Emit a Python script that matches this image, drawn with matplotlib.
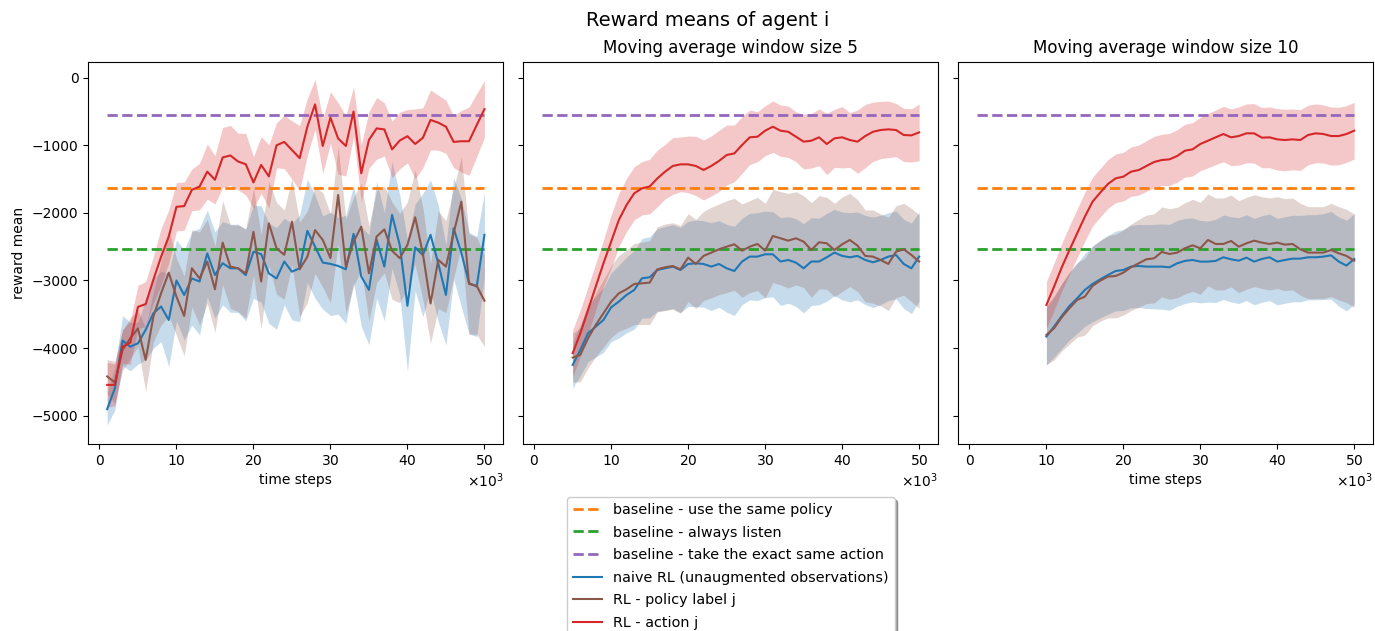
import numpy as np
import matplotlib
matplotlib.use("Agg")
import matplotlib.pyplot as plt

# ---------------- data (reward means, x in thousands of time steps) ----------------
x_raw = np.arange(1, 51)
x_ma5 = np.arange(5, 51)
x_ma10 = np.arange(10, 51)

baseline_same_policy = -1630
baseline_always_listen = -2535
baseline_same_action = -550

# panel 1: raw
raw_naive = [-4905, -4595, -3890, -3980, -3930, -3730, -3485, -3385, -3585, -3000,
             -3215, -2970, -3015, -2600, -2920, -2745, -2820, -2820, -2920, -2575,
             -2610, -2895, -2970, -2720, -2870, -2820, -2265, -2500, -2735, -2755,
             -2785, -2835, -2310, -2940, -3140, -2400, -2795, -2030, -2475, -3375,
             -2510, -2625, -2325, -2745, -3215, -2230, -2590, -3040, -3090, -2325]
raw_naive_sd = [235, 320, 370, 357, 310, 445, 520, 520, 690, 600,
                665, 690, 790, 640, 640, 616, 650, 653, 678, 690,
                715, 740, 752, 641, 715, 789, 764, 764, 690, 764,
                715, 800, 715, 740, 813, 863, 800, 789, 740, 974,
                641, 912, 813, 863, 740, 752, 800, 752, 740, 628]
raw_label = [-4420, -4510, -4030, -3855, -3710, -4175, -3535, -3190, -2885, -3240,
             -3525, -2820, -2970, -2720, -3130, -2440, -2795, -2820, -2895, -2280,
             -3015, -2155, -2525, -2620, -2130, -2835, -2650, -2255, -2400, -2670,
             -1735, -2795, -2425, -2205, -2895, -2350, -2245, -2560, -2670, -2475,
             -2065, -2600, -3340, -2695, -2795, -2300, -1835, -3050, -3080, -3300]
raw_label_sd = [250, 310, 300, 300, 270, 470, 370, 470, 640, 570,
                590, 570, 690, 620, 640, 620, 620, 640, 660, 640,
                700, 620, 680, 660, 640, 700, 680, 640, 700, 660,
                720, 700, 660, 640, 700, 680, 640, 720, 660, 640,
                700, 680, 590, 720, 680, 660, 665, 740, 720, 680]
raw_action = [-4545, -4545, -3980, -3920, -3390, -3350, -2990, -2650, -2350, -1910,
              -1900, -1660, -1610, -1390, -1510, -1180, -1150, -1240, -1280, -1550,
              -1290, -1460, -1000, -950, -1070, -1190, -725, -395, -1010, -590,
              -900, -1010, -500, -1415, -920, -750, -765, -1060, -930, -865,
              -980, -890, -625, -665, -725, -950, -940, -940, -700, -465]
raw_action_sd = [333, 308, 247, 320, 320, 333, 345, 419, 394, 357,
                 357, 308, 345, 407, 357, 444, 444, 419, 456, 382,
                 419, 468, 333, 394, 431, 481, 419, 370, 407, 382,
                 530, 444, 370, 419, 419, 456, 394, 419, 419, 394,
                 518, 444, 444, 407, 394, 382, 456, 505, 468, 419]

# panel 2: moving average window 5
ma5_naive = [-4250, -4028, -3780, -3683, -3584, -3397, -3313, -3214, -3140, -2968,
             -2953, -2845, -2820, -2795, -2845, -2756, -2746, -2756, -2795, -2756,
             -2820, -2860, -2720, -2647, -2647, -2613, -2613, -2720, -2697, -2736,
             -2820, -2720, -2720, -2657, -2588, -2637, -2657, -2637, -2697, -2731,
             -2697, -2647, -2623, -2756, -2820, -2647]
ma5_naive_sd = [340, 380, 420, 450, 480, 510, 540, 560, 580, 590,
                600, 610, 620, 620, 630, 630, 640, 640, 650, 640,
                650, 660, 640, 640, 650, 640, 630, 650, 640, 650,
                660, 650, 640, 650, 640, 650, 660, 650, 660, 670,
                660, 650, 650, 660, 670, 660]
ma5_label = [-4141, -4100, -3855, -3658, -3485, -3313, -3190, -3130, -3052, -3042,
             -3032, -2835, -2805, -2786, -2835, -2662, -2756, -2637, -2588, -2539,
             -2500, -2465, -2559, -2500, -2460, -2559, -2342, -2376, -2411, -2376,
             -2426, -2549, -2435, -2450, -2549, -2465, -2401, -2485, -2637, -2647,
             -2697, -2756, -2574, -2539, -2623, -2720]
ma5_label_sd = [360, 400, 440, 470, 500, 530, 560, 580, 600, 610,
                620, 630, 640, 640, 650, 650, 660, 660, 670, 670,
                680, 680, 690, 680, 690, 700, 690, 690, 700, 690,
                680, 700, 690, 680, 690, 700, 690, 680, 680, 690,
                680, 690, 680, 680, 690, 690]
ma5_action = [-4077, -3780, -3436, -3090, -2746, -2425, -2105, -1883, -1710, -1637,
              -1610, -1490, -1390, -1306, -1282, -1282, -1306, -1365, -1306, -1232,
              -1144, -1120, -996, -882, -873, -784, -725, -784, -800, -873,
              -946, -932, -882, -981, -897, -882, -922, -946, -863, -800,
              -774, -764, -774, -848, -853, -809]
ma5_action_sd = [345, 345, 345, 345, 345, 394, 394, 394, 394, 394,
                 404, 419, 404, 419, 404, 419, 439, 444, 444, 454,
                 444, 419, 419, 404, 370, 370, 380, 380, 380, 370,
                 404, 404, 419, 454, 429, 454, 404, 468, 468, 439,
                 424, 419, 394, 394, 394, 419]

# panel 3: moving average window 10
ma10_naive = [-3830, -3683, -3525, -3377, -3264, -3140, -3052, -2983, -2919, -2860,
              -2845, -2795, -2786, -2795, -2795, -2795, -2805, -2746, -2711, -2697,
              -2721, -2721, -2711, -2657, -2687, -2707, -2662, -2721, -2682, -2657,
              -2721, -2697, -2677, -2677, -2657, -2657, -2647, -2628, -2721, -2780,
              -2682]
ma10_naive_sd = [420, 450, 480, 500, 520, 540, 560, 570, 580, 590,
                 600, 610, 615, 620, 625, 630, 635, 635, 630, 620,
                 610, 600, 615, 625, 630, 635, 635, 640, 640, 640,
                 640, 640, 640, 640, 630, 630, 635, 650, 660, 670,
                 670]
ma10_label = [-3806, -3707, -3544, -3411, -3288, -3239, -3081, -3003, -2943, -2934,
              -2884, -2805, -2746, -2687, -2672, -2578, -2608, -2588, -2524, -2480,
              -2524, -2401, -2460, -2460, -2416, -2500, -2450, -2411, -2440, -2460,
              -2440, -2470, -2460, -2539, -2588, -2588, -2588, -2549, -2598, -2637,
              -2707]
ma10_label_sd = [440, 470, 500, 530, 550, 570, 590, 600, 610, 620,
                 630, 640, 650, 655, 660, 665, 670, 670, 675, 680,
                 680, 680, 680, 680, 680, 680, 680, 680, 680, 680,
                 680, 680, 680, 680, 680, 680, 680, 690, 690, 690,
                 690]
ma10_action = [-3362, -3091, -2805, -2549, -2302, -2056, -1834, -1700, -1572, -1489,
               -1464, -1390, -1366, -1306, -1247, -1218, -1208, -1158, -1080, -1060,
               -981, -932, -882, -833, -882, -863, -823, -823, -887, -882,
               -912, -922, -912, -922, -848, -823, -833, -863, -863, -833,
               -784]
ma10_action_sd = [345, 350, 355, 360, 360, 360, 360, 360, 360, 360,
                  360, 365, 370, 375, 380, 380, 385, 390, 390, 395,
                  395, 400, 405, 410, 420, 430, 435, 440, 445, 450,
                  455, 455, 450, 450, 440, 435, 430, 430, 425, 420,
                  420]

labels = ["baseline - use the same policy", "baseline - always listen",
          "baseline - take the exact same action", "naive RL (unaugmented observations)",
          "RL - policy label j", "RL - action j"]

panels = [
    (x_raw, [(raw_naive, raw_naive_sd), (raw_label, raw_label_sd), (raw_action, raw_action_sd)], None),
    (x_ma5, [(ma5_naive, ma5_naive_sd), (ma5_label, ma5_label_sd), (ma5_action, ma5_action_sd)],
     "Moving average window size 5"),
    (x_ma10, [(ma10_naive, ma10_naive_sd), (ma10_label, ma10_label_sd), (ma10_action, ma10_action_sd)],
     "Moving average window size 10"),
]

# ---------------- figure ----------------
W, H = 1375, 631
fig = plt.figure(figsize=(W / 100, H / 100), dpi=100)

def box(l, t, r, b):
    return [l / W, 1 - b / H, (r - l) / W, (b - t) / H]

ax1 = fig.add_axes(box(88.3, 61.7, 503.3, 444))
ax2 = fig.add_axes(box(523, 61.7, 938, 444), sharex=ax1, sharey=ax1)
ax3 = fig.add_axes(box(958.3, 61.7, 1373, 444), sharex=ax1, sharey=ax1)
axes = [ax1, ax2, ax3]

series_colors = ["tab:blue", "tab:brown", "tab:red"]
handles = []
for i, (ax, (xs, series, title)) in enumerate(zip(axes, panels)):
    xs_steps = np.asarray(xs) * 1000
    xb = x_raw * 1000
    h1, = ax.plot(xb, np.full(len(xb), baseline_same_policy), "--", color="tab:orange", lw=2)
    h2, = ax.plot(xb, np.full(len(xb), baseline_always_listen), "--", color="tab:green", lw=2)
    h3, = ax.plot(xb, np.full(len(xb), baseline_same_action), "--", color="tab:purple", lw=2)
    hs = [h1, h2, h3]
    for (m, sd), c in zip(series, series_colors):
        m = np.asarray(m, float)
        sd = np.asarray(sd, float)
        h, = ax.plot(xs_steps, m, color=c, lw=1.5)
        ax.fill_between(xs_steps, m - sd, m + sd, color=c, alpha=0.25, lw=0)
        hs.append(h)
    if i == 0:
        handles = hs
    if title:
        ax.set_title(title, fontsize=12)
    ax.ticklabel_format(style="sci", axis="x", scilimits=(3, 3), useMathText=True)

ax1.set_xlim(-1450, 52450)
ax1.set_ylim(-5420, 237)
ax1.set_ylabel("reward mean")
ax1.set_xlabel("time steps")
ax3.set_xlabel("time steps")
ax2.tick_params(labelleft=False)
ax3.tick_params(labelleft=False)

fig.suptitle("Reward means of agent i", x=0.515, y=0.968, va="center", fontsize=14)
fig.legend(handles, labels, loc="upper center", bbox_to_anchor=(731 / W, 1 - 490 / H),
           shadow=True, fontsize=10.4, labelspacing=0.59)

fig.savefig("out.png", dpi=100)
